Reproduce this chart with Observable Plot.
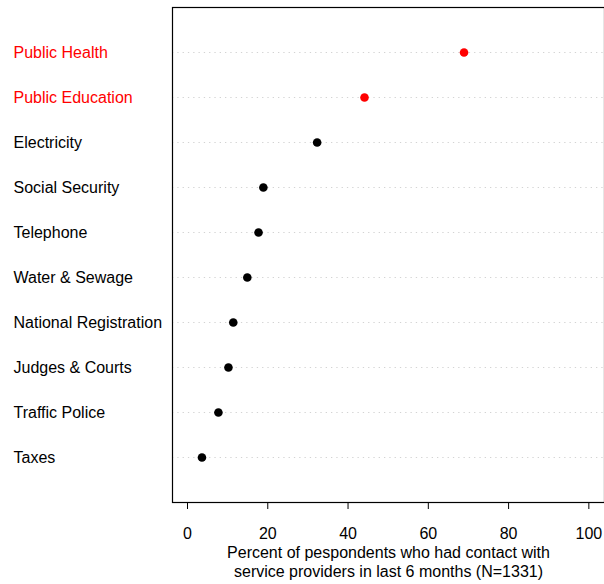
<!DOCTYPE html>
<html>
<head>
<meta charset="utf-8">
<script src="https://cdn.jsdelivr.net/npm/d3@7"></script>
<script src="https://cdn.jsdelivr.net/npm/@observablehq/plot@0.6"></script>
<style>
  html, body { margin: 0; padding: 0; background: #fff; }
</style>
</head>
<body>
<div id="chart"></div>
<script>
const categories = ["Public Health", "Public Education", "Electricity", "Social Security", "Telephone",
  "Water & Sewage", "National Registration", "Judges & Courts", "Traffic Police", "Taxes"];
const values = [68.9, 44.1, 32.3, 18.9, 17.7, 14.9, 11.4, 10.2, 7.7, 3.6];
const highlighted = ["Public Health", "Public Education"];
const xTicks = [0, 20, 40, 60, 80, 100];
const xTitle = "Percent of pespondents who had contact with\nservice providers in last 6 months (N=1331)";

const data = categories.map((c, i) => ({
  name: c, value: values[i], color: highlighted.includes(c) ? "#ff0000" : "#000000"
}));

const chart = Plot.plot({
  width: 604,
  height: 584,
  marginLeft: 172,
  marginRight: 0,
  marginTop: 7,
  marginBottom: 82,
  style: { fontFamily: "'Liberation Sans', Arial, sans-serif", fontSize: "16px", background: "#fff", color: "#000" },
  x: { domain: [-3.74, 103.9], ticks: xTicks, label: null },
  y: { domain: categories, type: "point", padding: 1, axis: null },
  color: { type: "identity" },
  marks: [
    Plot.ruleY(data, { y: "name", stroke: "#d3d3d3", strokeWidth: 1, strokeDasharray: "1.3,4" }),
    Plot.dot(data, { x: "value", y: "name", r: 4.3, fill: "color", stroke: null }),
    Plot.text(data, { y: "name", text: "name", fill: "color", frameAnchor: "left", textAnchor: "start", dx: -159, dy: 0.5, fontSize: 16 }),
    Plot.frame({ stroke: "#000", strokeWidth: 1.2 }),
    Plot.axisX({ ticks: xTicks, tickSize: 7, tickPadding: 18, fontSize: 16, label: null, stroke: "#000" }),
    Plot.text([xTitle], { frameAnchor: "bottom", dy: 59, lineAnchor: "middle", lineHeight: 1.19, fontSize: 16, fill: "#000" })
  ]
});
document.getElementById("chart").appendChild(chart);
</script>
</body>
</html>
